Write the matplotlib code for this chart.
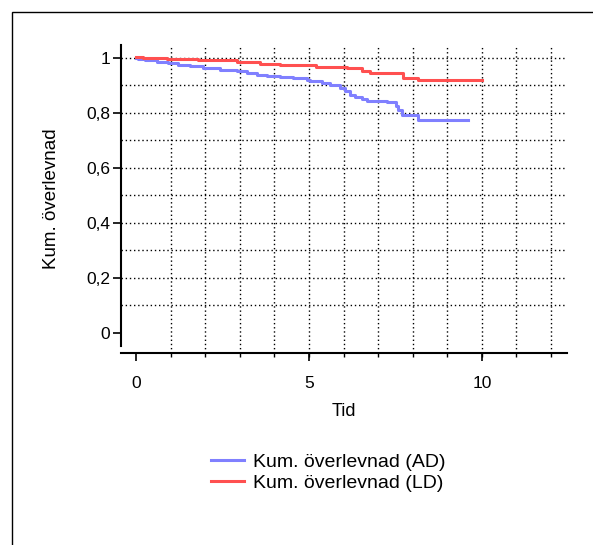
import numpy as np
import matplotlib.pyplot as plt
from matplotlib.patches import Rectangle

plt.rcParams['font.family'] = ['Liberation Sans', 'DejaVu Sans']

# Kaplan-Meier steps
ad_t = [0, 0.07, 0.26, 0.60, 0.93, 1.22, 1.56, 1.95, 2.43, 2.91, 3.20, 3.49, 3.78,
        4.16, 4.55, 4.93, 5.03, 5.37, 5.61, 5.90, 6.04, 6.18, 6.33, 6.52, 6.67,
        7.25, 7.53, 7.58, 7.68, 8.16, 9.60]
ad_s = [1.000, 0.995, 0.990, 0.985, 0.981, 0.975, 0.968, 0.962, 0.956, 0.950, 0.944,
        0.938, 0.934, 0.930, 0.925, 0.920, 0.915, 0.908, 0.899, 0.889, 0.877, 0.865,
        0.857, 0.849, 0.844, 0.837, 0.825, 0.810, 0.792, 0.774, 0.774]

ld_t = [0, 0.21, 0.90, 1.80, 2.91, 3.58, 4.16, 5.20, 6.09, 6.52, 6.76, 7.73, 8.16, 10.0]
ld_s = [1.003, 1.000, 0.996, 0.990, 0.984, 0.978, 0.973, 0.967, 0.961, 0.950, 0.943,
        0.927, 0.920, 0.920]

labels = ['Kum. överlevnad (AD)', 'Kum. överlevnad (LD)']
x_major = [0, 5, 10]
x_minor = list(range(1, 13))
y_major = [0, 0.2, 0.4, 0.6, 0.8, 1.0]
y_minor = [0.1, 0.2, 0.3, 0.4, 0.5, 0.6, 0.7, 0.8, 0.9, 1.0]

fig = plt.figure(figsize=(5.93, 5.45), dpi=100)
ax = fig.add_axes([121/593, 1 - 353.3/545, (567 - 121)/593, (353.3 - 45)/545])

ax.plot(ad_t, ad_s, drawstyle='steps-post', color='#8080ff', lw=2.2, label=labels[0])
ax.plot(ld_t, ld_s, drawstyle='steps-post', color='#ff5050', lw=2.2, label=labels[1])

ax.set_xlim(-0.434, 12.46)
ax.set_ylim(-0.075, 1.046)

ax.set_xticks(x_major)
ax.set_xticks(x_minor, minor=True)
ax.set_yticks(y_major)
ax.set_yticks(y_minor, minor=True)
ax.xaxis.remove_overlapping_locs = False
ax.yaxis.remove_overlapping_locs = False
ax.set_xticklabels([str(v) for v in x_major])
ax.set_yticklabels([('%g' % v).replace('.', ',') for v in y_major])

ax.tick_params(axis='both', which='major', length=6, width=1.2, labelsize=12.5, pad=2)
ax.tick_params(axis='x', which='major', pad=10)
ax.tick_params(axis='x', which='minor', length=3, width=1)
ax.tick_params(axis='y', which='minor', length=0)
ax.grid(False, which='major')
ax.grid(True, which='minor', color='black', linestyle=(0, (1, 2)), linewidth=1)

for s in ['top', 'right']:
    ax.spines[s].set_visible(False)
ax.spines['left'].set_bounds(-0.05, 1.046)
ax.spines['left'].set_linewidth(1.5)
ax.spines['bottom'].set_linewidth(1.5)

ax.set_xlabel('Tid', fontsize=13, labelpad=9)
ax.set_ylabel('Kum. överlevnad', fontsize=13.5, labelpad=19)

fig.legend(loc='upper left', bbox_to_anchor=(211/593, 1 - 453/545), frameon=False,
           fontsize=14, handlelength=1.7, handletextpad=0.45, labelspacing=0.18,
           borderpad=0, borderaxespad=0)

fig.patches.append(Rectangle((12/593, -0.1), 2, 1.1 - 12/545, transform=fig.transFigure,
                             fill=False, edgecolor='black', linewidth=1))

fig.savefig('out.png', dpi=100)
